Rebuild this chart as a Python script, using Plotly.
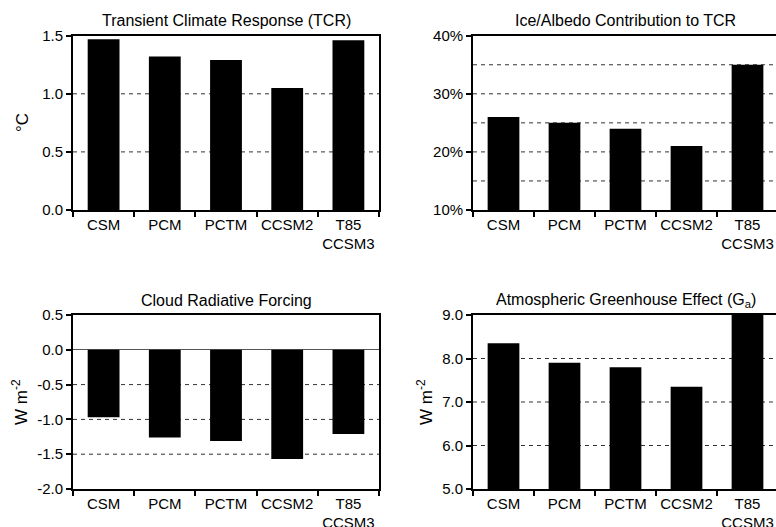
import plotly.graph_objects as go

categories = ["CSM", "PCM", "PCTM", "CCSM2", "T85<br>CCSM3"]
tcr = [1.47, 1.32, 1.29, 1.05, 1.46]
ice_albedo = [26, 25, 24, 21, 35]
cloud_forcing = [-0.97, -1.26, -1.31, -1.57, -1.21]
greenhouse = [8.35, 7.9, 7.8, 7.35, 9.0]

titles = ["Transient Climate Response (TCR)", "Ice/Albedo Contribution to TCR",
          "Cloud Radiative Forcing", "Atmospheric Greenhouse Effect (G<sub>a</sub>)"]

W, H = 776, 527
FONT = "Liberation Sans, Arial, Helvetica, sans-serif"

fig = go.Figure()
series = [tcr, ice_albedo, cloud_forcing, greenhouse]
for i, vals in enumerate(series):
    sfx = "" if i == 0 else str(i + 1)
    fig.add_trace(go.Bar(x=categories, y=vals, marker=dict(color="black", line=dict(width=0)),
                         width=0.52, xaxis="x" + sfx, yaxis="y" + sfx, showlegend=False))

left_dom = [73 / W, 379 / W]
right_dom = [473 / W, 1.0]
top_dom = [1 - 210 / H, 1 - 35.7 / H]
bot_dom = [1 - 489 / H, 1 - 315 / H]

def xa(dom, anchor, right=False):
    rng = [-0.5, 4.5 - (2.0 / 61.0)] if right else [-0.5, 4.5]
    return dict(domain=dom, anchor=anchor, type="category", range=rng,
                tickson="boundaries", ticks="outside", ticklen=5, tickwidth=1.5,
                tickcolor="black", showline=True, linecolor="black", linewidth=1.8,
                mirror=True, showgrid=False, tickangle=0, automargin=False,
                tickfont=dict(size=15, color="black", family=FONT), fixedrange=True)

def ya(dom, anchor, rng, tickvals, ticktext, right=False, zeroline=False):
    return dict(domain=dom, anchor=anchor, range=rng, tickmode="array",
                tickvals=tickvals, ticktext=ticktext, ticks="outside", ticklen=5,
                tickwidth=1.5, tickcolor="black", showline=True, linecolor="black",
                linewidth=1.8, mirror=not right, showgrid=False, automargin=False,
                zeroline=zeroline, zerolinecolor="#555555", zerolinewidth=1,
                tickfont=dict(size=15, color="black", family=FONT), fixedrange=True)

fig.update_layout(
    xaxis=xa(left_dom, "y"),
    yaxis=ya(top_dom, "x", [0, 1.5], [0, 0.5, 1.0, 1.5], ["0.0", "0.5", "1.0", "1.5"]),
    xaxis2=xa(right_dom, "y2", right=True),
    yaxis2=ya(top_dom, "x2", [10, 40], [10, 20, 30, 40], ["10%", "20%", "30%", "40%"], right=True),
    xaxis3=xa(left_dom, "y3"),
    yaxis3=ya(bot_dom, "x3", [-2.0, 0.5], [-2.0, -1.5, -1.0, -0.5, 0.0, 0.5],
              ["-2.0", "-1.5", "-1.0", "-0.5", "0.0", "0.5"], zeroline=True),
    xaxis4=xa(right_dom, "y4", right=True),
    yaxis4=ya(bot_dom, "x4", [5, 9], [5, 6, 7, 8, 9], ["5.0", "6.0", "7.0", "8.0", "9.0"], right=True),
)

grids = [("x", "y", [0.5, 1.0]), ("x2", "y2", [15, 20, 25, 30, 35]),
         ("x3", "y3", [-1.5, -1.0, -0.5]), ("x4", "y4", [6, 7, 8])]
shapes = []
for xr, yr, vals in grids:
    for v in vals:
        shapes.append(dict(type="line", xref=xr + " domain", yref=yr, x0=0, x1=1, y0=v, y1=v,
                           line=dict(color="#333333", width=1, dash="4px,4px"), layer="below"))

annotations = []
title_pos = [(226 / W, 1 - 21 / H), (625.5 / W, 1 - 21 / H),
             (226 / W, 1 - 300 / H), (625.5 / W, 1 - 300 / H)]
for t, (x, y) in zip(titles, title_pos):
    annotations.append(dict(text=t, x=x, y=y, xref="paper", yref="paper", showarrow=False,
                            xanchor="center", yanchor="middle",
                            font=dict(size=16, color="black", family=FONT)))
ylabels = [("°C", 22, 123), ("W m<sup>-2</sup>", 20, 402), ("W m<sup>-2</sup>", 425, 402)]
for t, x, y in ylabels:
    annotations.append(dict(text=t, x=x / W, y=1 - y / H, xref="paper", yref="paper",
                            showarrow=False, textangle=-90, xanchor="center", yanchor="middle",
                            font=dict(size=17, color="black", family=FONT)))

fig.update_layout(shapes=shapes, annotations=annotations, width=W, height=H,
                  margin=dict(l=0, r=0, t=0, b=0), paper_bgcolor="white",
                  plot_bgcolor="rgba(0,0,0,0)", bargap=0.48,
                  font=dict(family=FONT, color="black"))

fig.write_html("out.html", config={"displayModeBar": False})
